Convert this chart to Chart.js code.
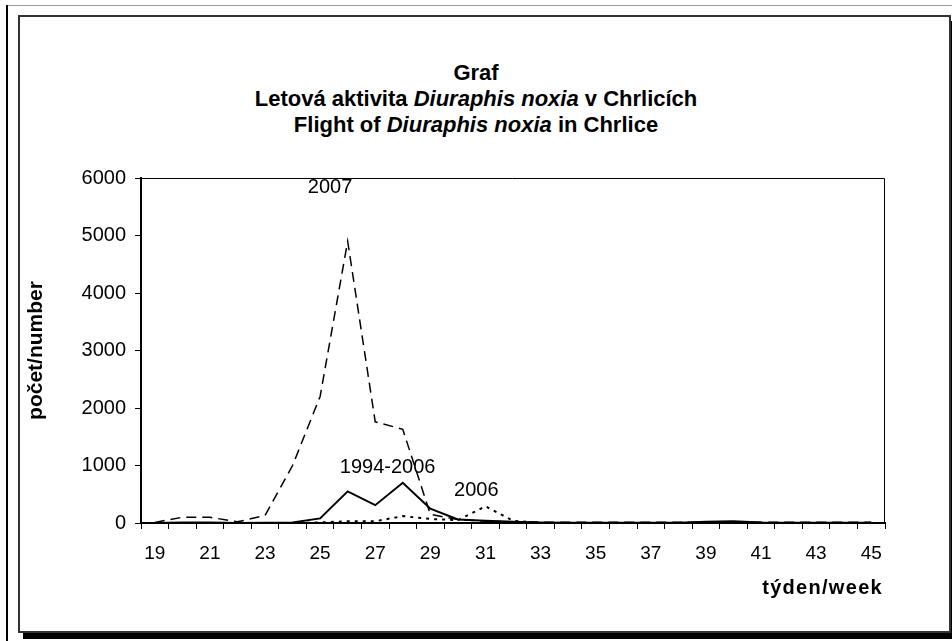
<!DOCTYPE html>
<html>
<head>
<meta charset="utf-8">
<script src="https://cdn.jsdelivr.net/npm/chart.js@4.4.0/dist/chart.umd.min.js"></script>
<style>
  html, body { margin: 0; padding: 0; background: #fff; }
  #page { position: relative; width: 952px; height: 641px; overflow: hidden; font-family: "Liberation Sans", Arial, sans-serif; }
  #outerTop { position: absolute; left: 7px; top: 5px; width: 945px; height: 1px; background: #999; }
  #outerLeft { position: absolute; left: 6px; top: 5px; width: 2px; height: 636px; background: #000; }
  #box { position: absolute; left: 18px; top: 15px; width: 929px; height: 614px; border: 2px solid #333; box-shadow: 5px 6px 0 #000; background: #fff; }
  #title { position: absolute; left: 0; width: 952px; top: 60px; text-align: center; font-weight: bold; font-size: 22px; line-height: 26px; color: #000; }
  #chart { position: absolute; left: 0; top: 0; }
</style>
</head>
<body>
<div id="page">
  <div id="outerTop"></div>
  <div id="outerLeft"></div>
  <div id="box"></div>
  <div id="title">
    Graf<br>
    Letová aktivita <i>Diuraphis noxia</i> v Chrlicích<br>
    Flight of <i>Diuraphis noxia</i> in Chrlice
  </div>
  <canvas id="chart" width="952" height="641"></canvas>
</div>
<script>
const weeks = [19, 20, 21, 22, 23, 24, 25, 26, 27, 28, 29, 30, 31, 32, 33, 34, 35, 36, 37, 38, 39, 40, 41, 42, 43, 44, 45];
const y2007 = [10, 100, 100, 20, 130, 1000, 2200, 4900, 1760, 1630, 150, 60, 30, 20, 15, 15, 15, 15, 15, 15, 15, 15, 15, 15, 15, 15, 15];
const y1994_2006 = [0, 10, 10, 0, 5, 10, 80, 550, 310, 700, 250, 60, 40, 20, 10, 5, 5, 5, 5, 5, 20, 30, 10, 5, 5, 5, 5];
const y2006 = [0, 0, 0, 0, 0, 0, 10, 30, 30, 120, 70, 50, 290, 40, 0, 0, 0, 0, 0, 0, 0, 0, 0, 0, 0, 0, 0];
const yTicks = [0, 1000, 2000, 3000, 4000, 5000, 6000];

// series labels written next to the lines: [text, category index, value]
const lineLabels = [
  ["2007", 6.36, 5830],
  ["1994-2006", 8.45, 960],
  ["2006", 11.67, 570]
];

const font = "Liberation Sans";

const plotFrame = {
  id: "plotFrame",
  afterDraw(chart) {
    const { ctx, chartArea: a } = chart;
    ctx.save();
    ctx.strokeStyle = "#000";
    ctx.lineWidth = 1;
    ctx.beginPath();
    ctx.moveTo(a.left, a.top + 0.5);
    ctx.lineTo(a.right - 0.5, a.top + 0.5);
    ctx.lineTo(a.right - 0.5, a.bottom);
    ctx.stroke();

    // x axis title, letter-spaced like the original
    ctx.font = "bold 20px '" + font + "'";
    ctx.letterSpacing = "1.3px";
    ctx.fillStyle = "#000";
    ctx.textAlign = "right";
    ctx.textBaseline = "middle";
    ctx.fillText("týden/week", a.right - 2, 588);
    ctx.restore();
  }
};

const seriesText = {
  id: "seriesText",
  afterDatasetsDraw(chart) {
    const { ctx, scales } = chart;
    ctx.save();
    ctx.font = "20px '" + font + "'";
    ctx.fillStyle = "#000";
    ctx.textAlign = "center";
    ctx.textBaseline = "middle";
    lineLabels.forEach(([t, i, v]) => {
      ctx.fillText(t, scales.x.getPixelForValue(i), scales.y.getPixelForValue(v));
    });
    ctx.restore();
  }
};

new Chart(document.getElementById("chart"), {
  type: "line",
  data: {
    labels: weeks,
    datasets: [
      { label: "2007", data: y2007, borderColor: "#000", borderWidth: 1.5, borderDash: [10, 6], pointRadius: 0, tension: 0 },
      { label: "1994-2006", data: y1994_2006, borderColor: "#000", borderWidth: 2, pointRadius: 0, tension: 0 },
      { label: "2006", data: y2006, borderColor: "#000", borderWidth: 2, borderDash: [3, 5], pointRadius: 0, tension: 0 }
    ]
  },
  options: {
    responsive: false,
    animation: false,
    layout: { padding: { top: 178, right: 67, left: 0, bottom: 0 } },
    plugins: { legend: { display: false }, tooltip: { enabled: false } },
    scales: {
      x: {
        offset: true,
        afterFit(s) { s.height = 118; },
        grid: { offset: true, drawOnChartArea: false, tickLength: 6, color: "#000", tickColor: "#000" },
        border: { color: "#000", width: 2 },
        ticks: {
          autoSkip: false, maxRotation: 0, padding: 13, color: "#000",
          font: { family: font, size: 19 },
          callback(v, i) { return i % 2 === 0 ? weeks[i] : ""; }
        }
      },
      y: {
        min: 0, max: 6000,
        afterFit(s) { s.width = 141; },
        afterBuildTicks(s) { s.ticks = yTicks.map(v => ({ value: v })); },
        grid: { drawOnChartArea: false, tickLength: 6, color: "#000", tickColor: "#000" },
        border: { color: "#000", width: 2 },
        ticks: { padding: 9, color: "#000", font: { family: font, size: 20 }, callback: v => String(v) },
        title: {
          display: true, text: "počet/number", color: "#000",
          font: { family: font, size: 21, weight: "bold" },
          padding: { top: 24, bottom: 0 }
        }
      }
    }
  },
  plugins: [plotFrame, seriesText]
});
</script>
</body>
</html>
